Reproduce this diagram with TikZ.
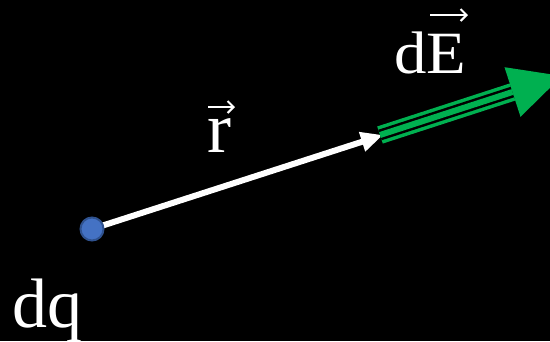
\documentclass[tikz,border=0pt]{standalone}
\usepackage{fontspec}
\setmainfont{Liberation Serif}
\usetikzlibrary{arrows.meta}
\definecolor{egreen}{HTML}{00B050}
\definecolor{qblue}{HTML}{4472C4}
\definecolor{qborder}{HTML}{2F528F}
\tikzset{
  lbl/.style={text=white, inner sep=0pt, anchor=base west},
  rvec/.style={draw=white, line width=6pt, -{Triangle[length=22pt,width=19pt]}},
  accent/.style={draw=white, line width=2pt, -{Straight Barb[length=6pt,width=12pt,line width=2pt]}},
  gline/.style={line width=#1, line cap=butt},
}
\begin{document}
\begin{tikzpicture}[x=1pt,y=-1pt]
\fill[black] (0,0) rectangle (550,341);
\useasboundingbox (0,0) rectangle (550,341);
\coordinate (q) at (92,229);
\coordinate (rtip) at (383,135);
\coordinate (gs) at (380,135);
\coordinate (gb) at (512.5,92);
\coordinate (gt) at (562,76);
\coordinate (g1) at (504.5,67.2);
\coordinate (g2) at (520.5,116.8);
% white r arrow
\draw[rvec] (q) -- (rtip);
% green dE arrow (triple line)
\draw[gline=18pt, egreen] (gs) -- (gb);
\draw[gline=11pt, black] (gs) -- (gb);
\draw[gline=6pt, egreen] (gs) -- (gb);
\fill[egreen] (g1) -- (gt) -- (g2) -- cycle;
% charge
\node[circle, fill=qblue, draw=qborder, line width=2pt, minimum size=23pt, inner sep=0pt] (dot) at (q) {};
% labels
\node[lbl, font=\fontsize{70}{80}\selectfont] (dq) at (12,327) {dq};
\node[lbl, font=\fontsize{72}{80}\selectfont] (r) at (207,152) {r};
\node[lbl, font=\fontsize{60}{66}\selectfont\addfontfeature{FakeStretch=1.08}] (dE) at (394,73) {dE};
% vector accents
\coordinate (ra1) at (208,107);
\coordinate (ra2) at (235,107);
\coordinate (ea1) at (430,15);
\coordinate (ea2) at (468,15);
\draw[accent] (ra1) -- (ra2);
\draw[accent] (ea1) -- (ea2);
\end{tikzpicture}
\end{document}
